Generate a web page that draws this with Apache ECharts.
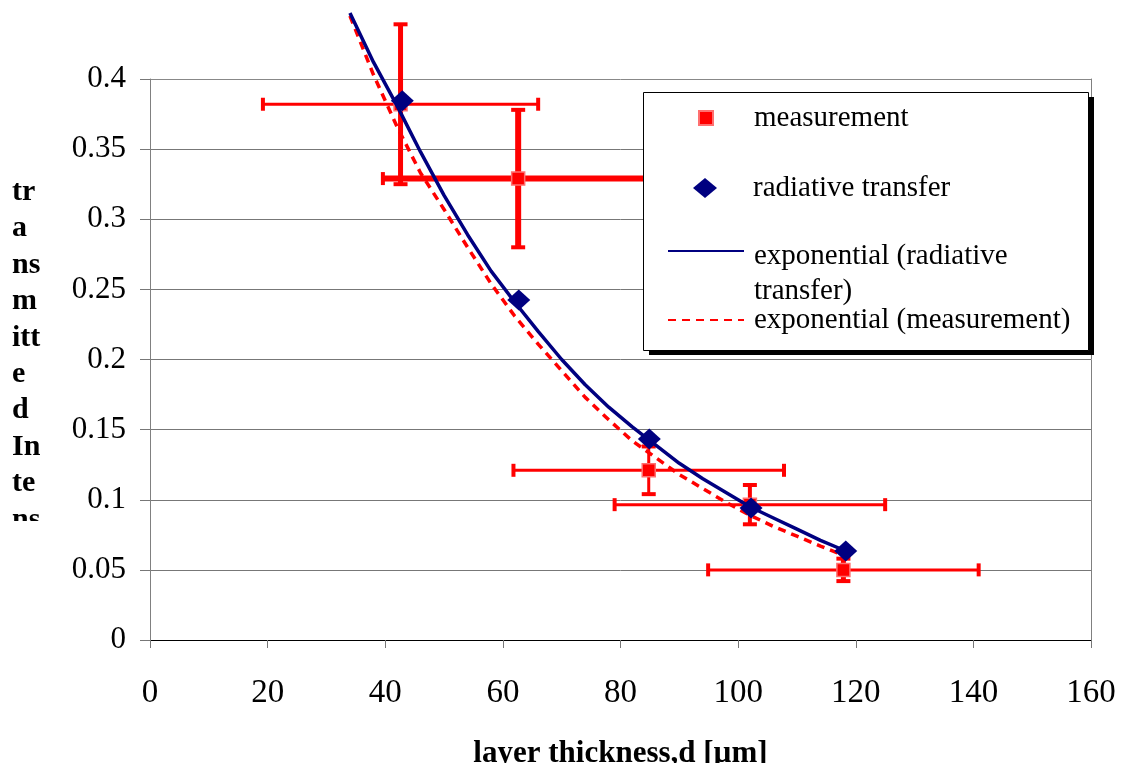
<!DOCTYPE html>
<html><head><meta charset="utf-8">
<script src="https://cdn.jsdelivr.net/npm/echarts@6.0.0/dist/echarts.min.js"></script>
<style>html,body{margin:0;padding:0;background:#fff}#c{width:1123px;height:763px}</style>
</head><body><div id="c"></div>
<script>
// ---- data ----
const xTicks = [0, 20, 40, 60, 80, 100, 120, 140, 160];
const yTicks = [0, 0.05, 0.1, 0.15, 0.2, 0.25, 0.3, 0.35, 0.4];

const measX    = [42.6, 62.6, 84.8, 102.0, 117.9];
const measY    = [0.382, 0.329, 0.121, 0.0965, 0.050];
const measXErr = [23.4, 23.0, 23.0, 23.0, 23.0];
const measYErr = [0.057, 0.049, 0.017, 0.014, 0.008];

const radX = [42.9, 62.7, 84.9, 102.2, 118.3];
const radY = [0.3845, 0.2425, 0.1433, 0.0941, 0.0635];

const fitRadX = [34, 38, 42, 46, 50, 54, 58, 62, 66, 70, 74, 78, 82, 86, 90, 94, 98, 102, 106, 110, 114, 118];
const fitRadY = [0.447, 0.412, 0.381, 0.348, 0.317, 0.289, 0.263, 0.241, 0.220, 0.200, 0.182, 0.166, 0.152, 0.139, 0.126, 0.115, 0.105, 0.095, 0.087, 0.079, 0.071, 0.064];

const fitMeasX = [34, 38, 42, 46, 50, 54, 58, 62, 66, 70, 74, 78, 82, 86, 90, 94, 98, 102, 106, 110, 114, 117];
const fitMeasY = [0.445, 0.403, 0.366, 0.333, 0.307, 0.280, 0.254, 0.231, 0.211, 0.192, 0.173, 0.157, 0.142, 0.130, 0.118, 0.108, 0.098, 0.089, 0.081, 0.074, 0.067, 0.062];

const yTitleLines = ['tr', 'a', 'ns', 'm', 'itt', 'e', 'd', 'In', 'te', 'ns'];

// ---- styles ----
const errXWidth = [3, 6, 3, 3, 3];
const errYWidth = [5, 6, 3, 4, 5];
const SERIF = '"Liberation Serif", "Times New Roman", serif';
const RED = '#ff0000', NAVY = '#000080';

function renderErr(params, api) {
  const i = params.dataIndex;
  const x = api.value(0), y = api.value(1), ex = api.value(2), ey = api.value(3);
  const c = api.coord([x, y]);
  const l = api.coord([x - ex, y]), r = api.coord([x + ex, y]);
  const t = api.coord([x, y + ey]), b = api.coord([x, y - ey]);
  const st = w => ({ stroke: RED, lineWidth: w });
  return {
    type: 'group',
    children: [
      { type: 'line', shape: { x1: l[0], y1: c[1], x2: r[0], y2: c[1] }, style: st(errXWidth[i]) },
      { type: 'line', shape: { x1: l[0], y1: c[1] - 6.5, x2: l[0], y2: c[1] + 6.5 }, style: st(4) },
      { type: 'line', shape: { x1: r[0], y1: c[1] - 6.5, x2: r[0], y2: c[1] + 6.5 }, style: st(4) },
      { type: 'line', shape: { x1: c[0], y1: t[1], x2: c[0], y2: b[1] }, style: st(errYWidth[i]) },
      { type: 'line', shape: { x1: c[0] - 7, y1: t[1], x2: c[0] + 7, y2: t[1] }, style: st(4) },
      { type: 'line', shape: { x1: c[0] - 7, y1: b[1], x2: c[0] + 7, y2: b[1] }, style: st(4) }
    ]
  };
}

const legendText = { fontFamily: SERIF, fontSize: 29, color: '#000', lineHeight: 32 };
const legendBase = { orient: 'vertical', padding: 0, selectedMode: false, z: 100 };

const chart = echarts.init(document.getElementById('c'), null, { renderer: 'canvas' });
chart.setOption({
  animation: false,
  backgroundColor: '#fff',
  grid: { left: 150, right: 32, top: 79, bottom: 123, outerBoundsMode: 'none' },
  xAxis: {
    type: 'value', min: 0, max: 160, interval: 20,
    axisLine: { show: true, lineStyle: { color: '#000', width: 1 } },
    axisTick: { show: true, inside: false, length: 8, lineStyle: { color: '#777' } },
    axisLabel: { margin: 37, fontFamily: SERIF, fontSize: 33, color: '#000' },
    splitLine: { show: false },
    name: 'layer thickness,d [µm]', nameLocation: 'middle', nameGap: 98,
    nameTextStyle: { fontFamily: SERIF, fontSize: 31, fontWeight: 'bold', color: '#000' }
  },
  yAxis: [{
    type: 'value', min: 0, max: 0.4, interval: 0.05,
    axisLine: { show: true, lineStyle: { color: '#808080' } },
    axisTick: { show: true, length: 10, lineStyle: { color: '#777' }, customValues: yTicks },
    axisLabel: { margin: 24, fontFamily: SERIF, fontSize: 31, color: '#000', customValues: yTicks,
      formatter: v => String(+v.toFixed(2)) },
    splitLine: { show: true, lineStyle: { width: 1,
      color: ['#000', '#777', '#777', '#777', '#777', '#777', '#777', '#777', '#888'] } }
  }, {
    type: 'value', min: 0, max: 0.4, position: 'right',
    axisLine: { show: true, lineStyle: { color: '#808080' } },
    axisTick: { show: false }, axisLabel: { show: false }, splitLine: { show: false }
  }],
  legend: [
    Object.assign({}, legendBase, { left: 698, top: 102, itemWidth: 14, itemHeight: 14, data: ['measurement'],
      textStyle: Object.assign({}, legendText, { padding: [0, 0, 0, 36] }) }),
    Object.assign({}, legendBase, { left: 693, top: 172, itemWidth: 24, itemHeight: 20, data: ['radiative transfer'],
      textStyle: Object.assign({}, legendText, { padding: [0, 0, 0, 31] }) }),
    Object.assign({}, legendBase, {
      left: 667, top: 215.5, itemWidth: 76, itemHeight: 4, data: ['exponential (radiative transfer)'],
      itemStyle: { opacity: 0 },
      formatter: () => '{s| }\n{a|exponential (radiative}\n{a|transfer)}',
      textStyle: { fontFamily: SERIF, fontSize: 29, color: '#000', padding: [0, 0, 0, 5],
        rich: { s: { lineHeight: 45, fontSize: 1 }, a: { lineHeight: 35, fontSize: 29, fontFamily: SERIF, color: '#000' } } }
    }),
    Object.assign({}, legendBase, { left: 667, top: 304, itemWidth: 76, itemHeight: 4, data: ['exponential (measurement)'],
      itemStyle: { opacity: 0 },
      textStyle: Object.assign({}, legendText, { padding: [0, 0, 0, 5] }) })
  ],
  graphic: [
    { type: 'rect', z: 50, shape: { x: 649, y: 97, width: 445, height: 258 }, style: { fill: '#000' } },
    { type: 'rect', z: 51, shape: { x: 643.5, y: 92.5, width: 445, height: 258 }, style: { fill: '#fff', stroke: '#000', lineWidth: 1 } },
    { type: 'text', z: 5, left: 12, top: 174,
      style: { text: yTitleLines.join('\n'), font: 'bold 30px ' + SERIF, lineHeight: 36.4, fill: '#000' } },
    { type: 'rect', z: 6, shape: { x: 0, y: 521, width: 66, height: 40 }, style: { fill: '#fff' } }
  ],
  series: [
    { type: 'custom', name: 'error', renderItem: renderErr, z: 2, clip: false,
      encode: { x: 0, y: 1 },
      data: measX.map((x, i) => [x, measY[i], measXErr[i], measYErr[i]]) },
    { type: 'scatter', name: 'measurement', z: 3, symbol: 'rect', symbolSize: 13, clip: false,
      itemStyle: { color: RED, borderColor: '#ff7070', borderWidth: 1.5, opacity: 1 },
      data: measX.map((x, i) => [x, measY[i]]) },
    { type: 'line', name: 'exponential (measurement)', z: 4, symbol: 'none', showSymbol: false, clip: false,
      lineStyle: { color: RED, width: 3.5, type: [8, 6] }, itemStyle: { color: RED },
      data: fitMeasX.map((x, i) => [x, fitMeasY[i]]) },
    { type: 'line', name: 'exponential (radiative transfer)', z: 5, symbol: 'none', showSymbol: false, clip: false,
      lineStyle: { color: NAVY, width: 3.5 }, itemStyle: { color: NAVY },
      data: fitRadX.map((x, i) => [x, fitRadY[i]]) },
    { type: 'scatter', name: 'radiative transfer', z: 6, symbol: 'diamond', symbolSize: [23, 21], clip: false,
      itemStyle: { color: NAVY, opacity: 1 },
      data: radX.map((x, i) => [x, radY[i]]) }
  ]
});
</script>
</body></html>
